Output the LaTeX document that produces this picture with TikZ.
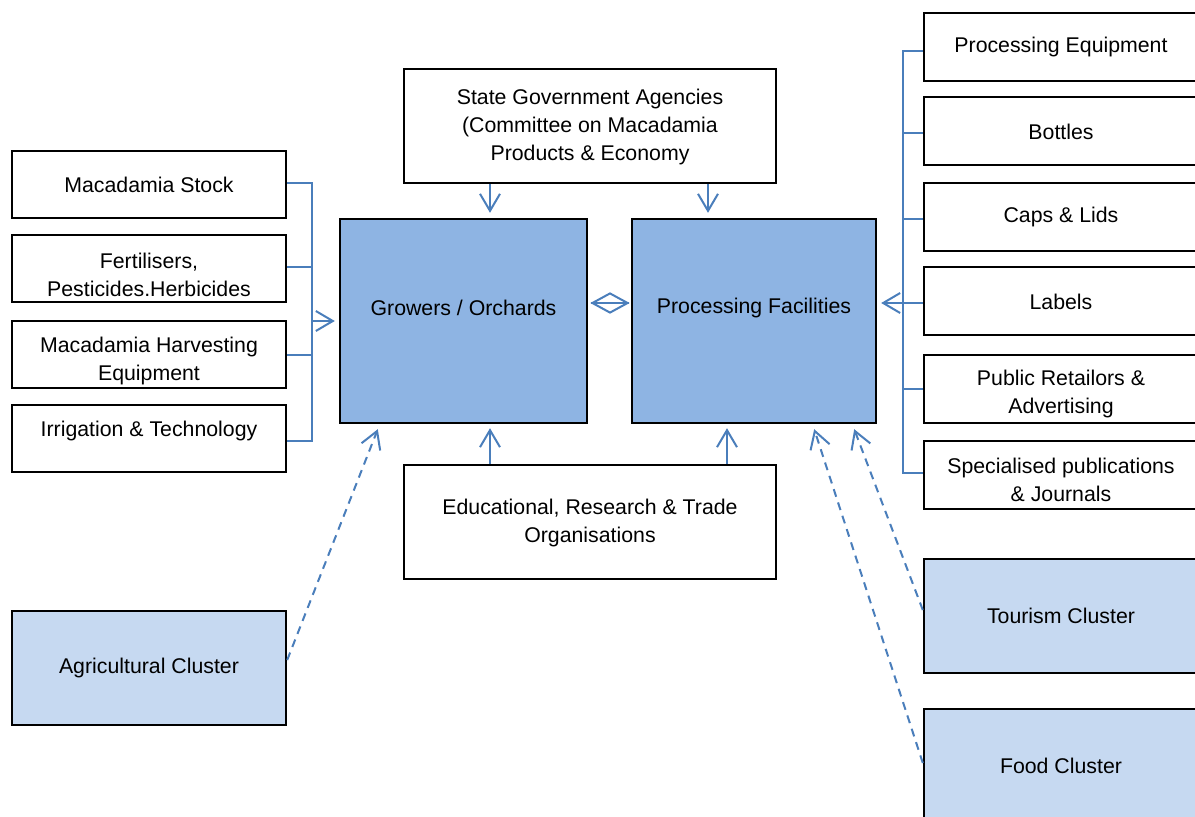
\documentclass[tikz,border=0pt]{standalone}
\usepackage{fontspec}
\setmainfont{Liberation Sans}
\usetikzlibrary{arrows.meta,shapes.geometric,calc}
\definecolor{lineblue}{HTML}{4A7EBB}
\definecolor{darkfill}{HTML}{8EB4E3}
\definecolor{lightfill}{HTML}{C6D9F1}
\tikzset{
  box/.style={draw=black, line width=2.4pt, fill=white, inner sep=0pt, minimum width=274, minimum height=67},
  bigbox/.style={box, minimum height=114},
  txt/.style={inner sep=0pt, align=center, yshift=-2pt, font=\fontsize{21.3}{28}\selectfont},
  conn/.style={draw=lineblue, line width=2pt},
  arr/.style={-{Straight Barb[length=17pt,width=20pt,line width=2pt]}},
  dashconn/.style={conn, arr, dash pattern=on 8pt off 6pt},
}
\begin{document}
\begin{tikzpicture}[x=1pt,y=-1pt]
\clip (0,0) rectangle (1195,817);
\fill[white] (0,0) rectangle (1195,817);
% left boxes
\node[box] (ms) at (149,184.5) {};
\node[box] (fert) at (149,268.5) {};
\node[box] (harv) at (149,354.5) {};
\node[box] (irr) at (149,438.5) {};
\node[bigbox, fill=lightfill] (agri) at (149,668) {};
\node[txt] (mst) at (149,183) {Macadamia Stock};
\node[txt] (fertt) at (149,273) {Fertilisers,\\Pesticides.Herbicides};
\node[txt] (harvt) at (149,358.5) {Macadamia Harvesting\\Equipment};
\node[txt] (irrt) at (149,429) {Irrigation \& Technology};
\node[txt] (agrit) at (149,666) {Agricultural Cluster};
% centre boxes
\node[bigbox, minimum width=372] (sg) at (590,126) {};
\node[txt] (sgt) at (590,125) {State Government Agencies\\(Committee on Macadamia\\Products \& Economy};
\node[box, fill=darkfill, minimum width=247, minimum height=204] (grow) at (463.5,321) {};
\node[txt] (growt) at (463.5,306) {Growers / Orchards};
\node[box, fill=darkfill, minimum width=244, minimum height=204] (proc) at (754,321) {};
\node[txt] (proct) at (754,306) {Processing Facilities};
\node[bigbox, minimum width=372] (ed) at (590,522) {};
\node[txt] (edt) at (590,520.5) {Educational, Research \& Trade\\Organisations};
% right boxes
\node[box, minimum height=68] (pe) at (1061,47) {};
\node[box, minimum height=68] (bot) at (1061,131) {};
\node[box, minimum height=68] (cap) at (1061,217) {};
\node[box, minimum height=68] (lab) at (1061,301) {};
\node[box, minimum height=68] (pr) at (1061,389) {};
\node[box, minimum height=68] (sp) at (1061,475) {};
\node[bigbox, fill=lightfill] (tour) at (1061,616) {};
\node[bigbox, fill=lightfill] (food) at (1061,766) {};
\node[txt] (pet) at (1061,45) {Processing Equipment};
\node[txt] (bott) at (1061,130) {Bottles};
\node[txt] (capt) at (1061,215) {Caps \& Lids};
\node[txt] (labt) at (1061,300) {Labels};
\node[txt] (prt) at (1061,392) {Public Retailors \&\\Advertising};
\node[txt] (spt) at (1061,478) {Specialised publications\\\& Journals};
\node[txt] (tourt) at (1061,614) {Tourism Cluster};
\node[txt] (foodt) at (1061,764) {Food Cluster};
% left bus
\coordinate (lbus) at (312,321);
\draw[conn] ($(ms.east)+(0,-1.5)$) -| (lbus) |- ($(irr.east)+(0,2.5)$);
\draw[conn] ($(fert.east)+(0,-1.5)$) -- ($(fert.east -| lbus)+(0,-1.5)$);
\draw[conn] (harv.east) -- (harv.east -| lbus);
\draw[conn, arr, shorten >=4pt] (lbus) -- (grow.west);
% right bus
\coordinate (rbus) at (903,303);
\draw[conn] ($(pe.west)+(0,4)$) -| (rbus) |- ($(sp.west)+(0,-2)$);
\draw[conn] ($(bot.west)+(0,2)$) -- ($(bot.west -| rbus)+(0,2)$);
\draw[conn] ($(cap.west)+(0,2)$) -- ($(cap.west -| rbus)+(0,2)$);
\draw[conn] ($(lab.west)+(0,2)$) -- (rbus);
\draw[conn] (pr.west) -- (pr.west -| rbus);
\draw[conn, arr, shorten >=4pt] (rbus) -- (rbus -| proc.east);
% top arrows
\draw[conn, arr, shorten >=5pt] ($(sg.south)+(-100,0)$) -- ($(grow.north)+(26.5,0)$);
\draw[conn, arr, shorten >=5pt] ($(sg.south)+(118,0)$) -- ($(proc.north)+(-46,0)$);
% bottom arrows
\draw[conn, arr, shorten >=4pt] ($(ed.north)+(-100,0)$) -- ($(grow.south)+(26.5,0)$);
\draw[conn, arr, shorten >=4pt] ($(ed.north)+(137,0)$) -- ($(proc.south)+(-27,0)$);
% diamond link
\node[diamond, draw=lineblue, line width=2pt, inner sep=0pt, minimum width=36, minimum height=20] (dia) at (610,303) {};
\draw[conn] (dia.west) -- (dia.east);
% dashed cluster arrows
\draw[dashconn] ($(agri.east)+(0,-8)$) -- ($(grow.south west)+(39,5)$);
\draw[dashconn] ($(tour.west)+(0,-6)$) -- ($(proc.south east)+(-23,5)$);
\draw[dashconn] ($(food.west)+(0,-3)$) -- ($(proc.south east)+(-63,5)$);
\end{tikzpicture}
\end{document}
